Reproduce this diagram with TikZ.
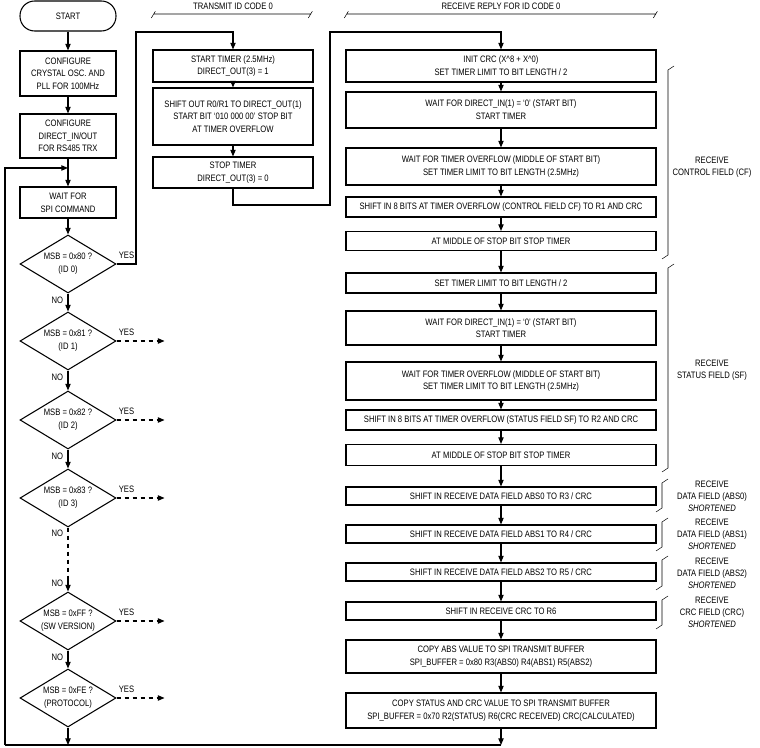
\documentclass[tikz,border=0pt]{standalone}
\usepackage{fontspec}
\setmainfont[FakeStretch=0.82]{Liberation Sans}
\usepackage{tikz}
\usetikzlibrary{shapes.geometric}
\usetikzlibrary{arrows.meta}
\tikzset{
	box/.style={draw,thick,align=center,inner sep=1pt,minimum height=#1*0.75pt},
	lbox/.style={box=#1,minimum width=72pt},
	mbox/.style={box=#1,minimum width=120pt},
	rbox/.style={box=#1,minimum width=232.5pt},
	dec/.style={draw,thick,diamond,aspect=1.65,minimum width=72pt,minimum height=43.5pt,inner sep=0pt,align=center},
	lab/.style={font=\fontsize{7}{9}\selectfont},
	>={Triangle[length=5pt,width=4pt]},
	every node/.append style={font=\fontsize{7}{9.5}\selectfont}
}
\begin{document}
\begin{tikzpicture}[x=0.75pt,y=-0.75pt,thick]
	\useasboundingbox (0,0) rectangle (760,748);
	% left column
	\node[lbox=30,rounded corners=11pt] (start) at (68,16) {START};
	\node[lbox=45] (cfg1) at (68,73.5) {CONFIGURE\\CRYSTAL OSC. AND\\PLL FOR 100MHz};
	\node[lbox=44] (cfg2) at (68,136) {CONFIGURE\\DIRECT\_IN/OUT\\FOR RS485 TRX};
	\node[lbox=31] (wait) at (68,202.5) {WAIT FOR\\SPI COMMAND};
	\node[dec] (d0) at (68,264) {MSB = 0x80 ?\\(ID 0)};
	\node[dec] (d1) at (68,341) {MSB = 0x81 ?\\(ID 1)};
	\node[dec] (d2) at (68,420) {MSB = 0x82 ?\\(ID 2)};
	\node[dec] (d3) at (68,498) {MSB = 0x83 ?\\(ID 3)};
	\node[dec] (dff) at (68,621) {MSB = 0xFF ?\\(SW VERSION)};
	\node[dec] (dfe) at (68,698) {MSB = 0xFE ?\\(PROTOCOL)};
	\coordinate (jn) at (68,168);
	\coordinate (gap) at (68,577);
	\coordinate (lend) at (68,745);
	\coordinate (lb) at (5,745);
	\draw[->] (start) -- (cfg1);
	\draw[->] (cfg1) -- (cfg2);
	\draw (cfg2) -- (jn);
	\draw[->] (jn) -- (wait);
	\draw[->] (wait) -- (d0);
	\draw[->] (d0) -- node[lab,left,pos=0.35] {NO} (d1);
	\draw[->] (d1) -- node[lab,left,pos=0.35] {NO} (d2);
	\draw[->] (d2) -- node[lab,left,pos=0.35] {NO} (d3);
	\draw[dashed] (d3) -- node[lab,left,pos=0.12] {NO} (gap);
	\draw[->] (gap) -- node[lab,left,pos=0.4] {NO} (dff);
	\draw[->] (dff) -- node[lab,left,pos=0.35] {NO} (dfe);
	\draw[->] (dfe) -- (lend);
	\foreach \d in {d1,d2,d3,dff,dfe}{
		\coordinate (\d-out) at ([xshift=48*0.75pt]\d.east);
		\draw[dashed,->] (\d.east) node[lab,above right,xshift=-2pt] {YES} -- (\d-out);
	}
	% transmit
	\node[lab] (txh) at (233,6) {TRANSMIT ID CODE 0};
	\coordinate (txa) at (154,14);
	\coordinate (txb) at (311,14);
	\draw[thin] ([xshift=-2pt,yshift=-3pt]txa) -- ([xshift=1pt,yshift=2pt]txa) (txa) -- (txb) ([xshift=-2pt,yshift=-3pt]txb) -- ([xshift=1pt,yshift=2pt]txb);
	\node[mbox=32] (t1) at (233,66) {START TIMER (2.5MHz)\\DIRECT\_OUT(3) = 1};
	\node[mbox=57] (t2) at (233,116.5) {SHIFT OUT R0/R1 TO DIRECT\_OUT(1)\\START BIT ‘010 000 00’ STOP BIT\\AT TIMER OVERFLOW};
	\node[mbox=31] (t3) at (233,172.5) {STOP TIMER\\DIRECT\_OUT(3) = 0};
	\coordinate (ya) at (136,32);
	\draw[->] (d0.east) node[lab,above right,xshift=-2pt] {YES} -| (ya) -| (t1);
	\draw[->] (t1) -- (t2);
	\draw[->] (t2) -- (t3);
	\coordinate (yb) at (330,205);
	% receive
	\node[lab] (rxh) at (501,6) {RECEIVE REPLY FOR ID CODE 0};
	\coordinate (rxa) at (347,14);
	\coordinate (rxb) at (656,14);
	\draw[thin] ([xshift=-2pt,yshift=-3pt]rxa) -- ([xshift=1pt,yshift=2pt]rxa) (rxa) -- (rxb) ([xshift=-2pt,yshift=-3pt]rxb) -- ([xshift=1pt,yshift=2pt]rxb);
	\node[rbox=32] (r1) at (501,66) {INIT CRC (X\^{}8 + X\^{}0)\\SET TIMER LIMIT TO BIT LENGTH / 2};
	\node[rbox=36] (r2) at (501,110) {WAIT FOR DIRECT\_IN(1) = ‘0’ (START BIT)\\START TIMER};
	\node[rbox=37] (r3) at (501,166.5) {WAIT FOR TIMER OVERFLOW (MIDDLE OF START BIT)\\SET TIMER LIMIT TO BIT LENGTH (2.5MHz)};
	\node[rbox=20] (r4) at (501,207) {SHIFT IN 8 BITS AT TIMER OVERFLOW (CONTROL FIELD CF) TO R1 AND CRC};
	\node[rbox=19] (r5) at (501,241) {AT MIDDLE OF STOP BIT STOP TIMER};
	\node[rbox=20] (r6) at (501,283) {SET TIMER LIMIT TO BIT LENGTH / 2};
	\node[rbox=34] (r7) at (501,328) {WAIT FOR DIRECT\_IN(1) = ‘0’ (START BIT)\\START TIMER};
	\node[rbox=38] (r8) at (501,381) {WAIT FOR TIMER OVERFLOW (MIDDLE OF START BIT)\\SET TIMER LIMIT TO BIT LENGTH (2.5MHz)};
	\node[rbox=20] (r9) at (501,420) {SHIFT IN 8 BITS AT TIMER OVERFLOW (STATUS FIELD SF) TO R2 AND CRC};
	\node[rbox=21] (r10) at (501,455) {AT MIDDLE OF STOP BIT STOP TIMER};
	\node[rbox=18] (r11) at (501,496) {SHIFT IN RECEIVE DATA FIELD ABS0 TO R3 / CRC};
	\node[rbox=18] (r12) at (501,534) {SHIFT IN RECEIVE DATA FIELD ABS1 TO R4 / CRC};
	\node[rbox=18] (r13) at (501,572) {SHIFT IN RECEIVE DATA FIELD ABS2 TO R5 / CRC};
	\node[rbox=18] (r14) at (501,611) {SHIFT IN RECEIVE CRC TO R6};
	\node[rbox=33] (r15) at (501,656.5) {COPY ABS VALUE TO SPI TRANSMIT BUFFER\\SPI\_BUFFER = 0x80 R3(ABS0) R4(ABS1) R5(ABS2)};
	\node[rbox=35] (r16) at (501,710.5) {COPY STATUS AND CRC VALUE TO SPI TRANSMIT BUFFER\\SPI\_BUFFER = 0x70 R2(STATUS) R6(CRC RECEIVED) CRC(CALCULATED)};
	\coordinate (rend) at (501,745);
	\coordinate (yc) at (330,32);
	\draw[->] (t3) |- (yb) -- (yc) -| (r1);
	\foreach \a/\b in {r1/r2,r2/r3,r3/r4,r4/r5,r5/r6,r6/r7,r7/r8,r8/r9,r9/r10,r10/r11,r11/r12,r12/r13,r13/r14,r14/r15,r15/r16}
		\draw[->] (\a) -- (\b);
	\draw[->] (r16) -- (rend);
	% loop back
	\draw (rend) -- (lb);
	\draw[->] (lb) |- (jn);
	% field brackets
	\foreach \ya/\yb/\bx in {70/255/668,268/468/668,483/508/662,522/547/662,560/586/662,600/625/662}
		\draw[thin] (\bx+6,\ya-4) -- (\bx,\ya) -- (\bx,\yb) -- (\bx-6,\yb+4);
	\node[lab,align=center] (cf) at (712,167) {RECEIVE\\CONTROL FIELD (CF)};
	\node[lab,align=center] (sf) at (712,370) {RECEIVE\\STATUS FIELD (SF)};
	\node[lab,align=center] (a0) at (712,496) {RECEIVE\\DATA FIELD (ABS0)\\\textit{SHORTENED}};
	\node[lab,align=center] (a1) at (712,534) {RECEIVE\\DATA FIELD (ABS1)\\\textit{SHORTENED}};
	\node[lab,align=center] (a2) at (712,573) {RECEIVE\\DATA FIELD (ABS2)\\\textit{SHORTENED}};
	\node[lab,align=center] (cr) at (712,612) {RECEIVE\\CRC FIELD (CRC)\\\textit{SHORTENED}};
\end{tikzpicture}
\end{document}
